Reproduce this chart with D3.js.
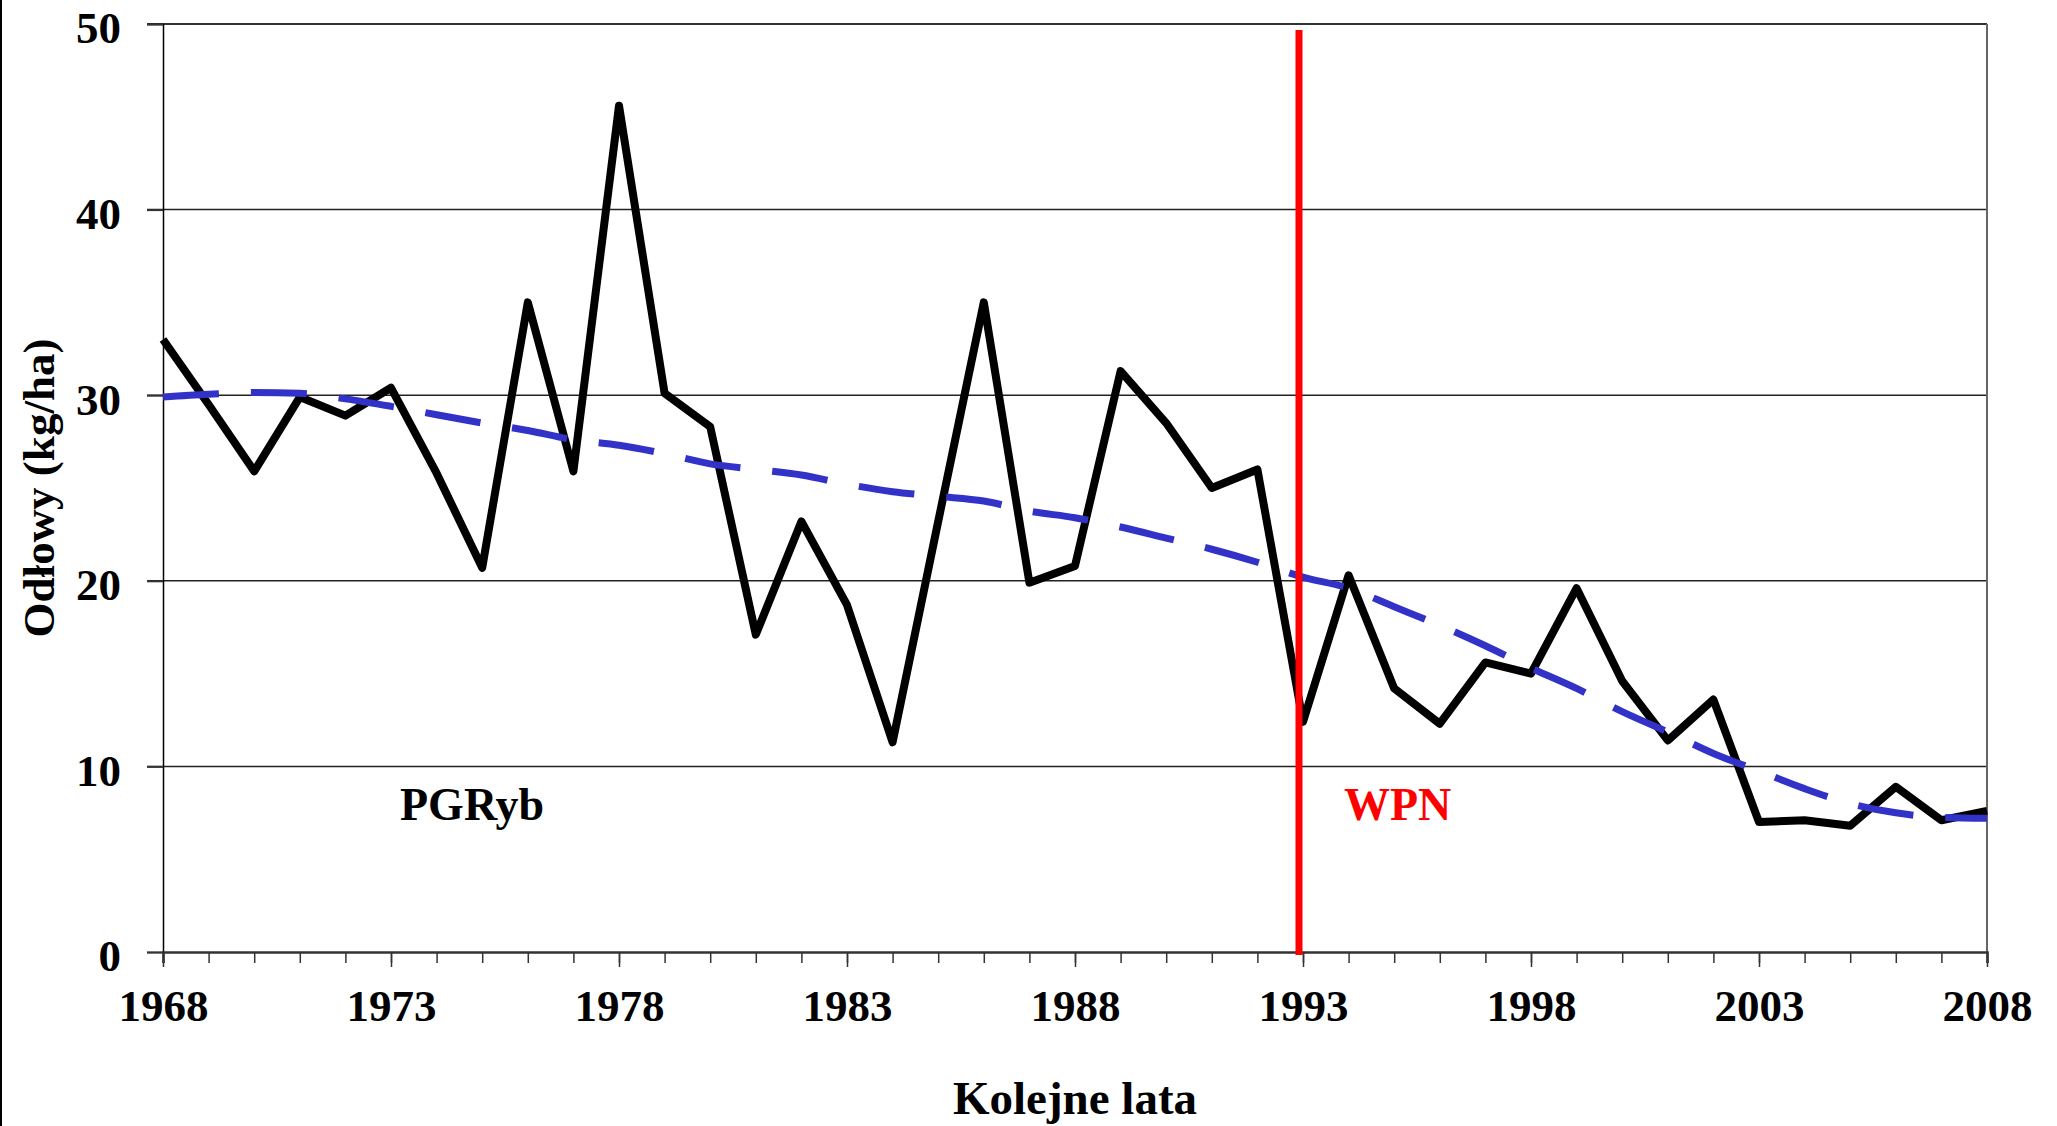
<!DOCTYPE html>
<html>
<head>
<meta charset="utf-8">
<script src="https://cdn.jsdelivr.net/npm/d3@7"></script>
<style>
  html, body { margin: 0; padding: 0; background: #fff; }
  svg { display: block; }
  text { font-family: "Liberation Serif", "Times New Roman", serif; font-weight: bold; }
</style>
</head>
<body>
<div id="chart"></div>
<script>
// catches per year (kg/ha)
const years = d3.range(1968, 2009);
const catches = [
  33.0, 29.5, 25.9, 29.9, 28.9, 30.4, 25.8, 20.7, 35.0, 25.9,
  45.6, 30.1, 28.3, 17.1, 23.2, 18.7, 11.3, 23.2, 35.0, 19.9,
  20.8, 31.3, 28.5, 25.0, 26.0, 12.4, 20.3, 14.2, 12.3, 15.6,
  15.0, 19.6, 14.6, 11.4, 13.6, 7.0, 7.1, 6.8, 8.9, 7.1, 7.6
];
// trend line
const trend = [
  29.9, 30.05, 30.15, 30.1, 29.8, 29.4, 28.95, 28.5, 28.1, 27.6,
  27.3, 26.85, 26.3, 26.0, 25.7, 25.2, 24.8, 24.55, 24.3, 23.75,
  23.4, 22.9, 22.3, 21.7, 21.0, 20.2, 19.6, 18.6, 17.6, 16.5,
  15.3, 14.2, 12.95, 11.85, 10.7, 9.75, 8.8, 8.0, 7.5, 7.25, 7.2
];
const yTicks = [0, 10, 20, 30, 40, 50];
const xLabelYears = [1968, 1973, 1978, 1983, 1988, 1993, 1998, 2003, 2008];
const markerYear = 1993;
const leftLabel = "PGRyb";
const rightLabel = "WPN";

const width = 2057, height = 1126;
const margin = {left: 163, right: 70, top: 24, bottom: 174};

const svg = d3.select("#chart").append("svg")
  .attr("width", width)
  .attr("height", height);

// outer frame edge on the left
svg.append("line")
  .attr("x1", 1).attr("x2", 1).attr("y1", 0).attr("y2", height)
  .attr("stroke", "#000").attr("stroke-width", 2);

const x = d3.scaleLinear()
  .domain([1968, 2008])
  .range([margin.left, width - margin.right]);
const y = d3.scaleLinear()
  .domain([0, 50])
  .range([height - margin.bottom, margin.top]);

// gridlines
svg.append("g")
  .selectAll("line")
  .data(yTicks.filter(d => d > 0))
  .enter().append("line")
  .attr("x1", x(1968) - 16)
  .attr("x2", x(2008))
  .attr("y1", d => y(d))
  .attr("y2", d => y(d))
  .attr("stroke", d => d === 50 ? "#333" : "#222")
  .attr("stroke-width", d => d === 50 ? 2 : 1.5);

// right border
svg.append("line")
  .attr("x1", x(2008)).attr("x2", x(2008))
  .attr("y1", y(50)).attr("y2", y(0))
  .attr("stroke", "#666").attr("stroke-width", 2);

// y axis
const yAxis = svg.append("g")
  .attr("transform", "translate(" + x(1968) + ",0)")
  .call(d3.axisLeft(y).tickValues(yTicks).tickSize(16).tickPadding(26).tickFormat(d3.format("d")));
yAxis.select(".domain").attr("stroke", "#000").attr("stroke-width", 1.5);
yAxis.selectAll(".tick line").attr("stroke", "#333").attr("stroke-width", 2);
yAxis.selectAll("text")
  .attr("fill", "#000")
  .attr("dy", "0.42em")
  .style("font-size", "45px")
  .style("font-family", "'Liberation Serif', serif")
  .style("font-weight", "bold");

// x axis: minor ticks every year, major with labels every 5
const xAxisMinor = svg.append("g")
  .attr("transform", "translate(0," + y(0) + ")")
  .call(d3.axisBottom(x).tickValues(years).tickSize(11).tickFormat(""));
xAxisMinor.select(".domain").attr("stroke", "#333").attr("stroke-width", 2.5);
xAxisMinor.selectAll(".tick line").attr("stroke", "#333").attr("stroke-width", 1.5);

const xAxis = svg.append("g")
  .attr("transform", "translate(0," + y(0) + ")")
  .call(d3.axisBottom(x).tickValues(xLabelYears).tickSize(15).tickPadding(54).tickFormat(d3.format("d")));
xAxis.select(".domain").remove();
xAxis.selectAll(".tick line").attr("stroke", "#333").attr("stroke-width", 1.5);
xAxis.selectAll("text")
  .attr("fill", "#000")
  .attr("dy", "0")
  .style("font-size", "45px")
  .style("font-family", "'Liberation Serif', serif")
  .style("font-weight", "bold");

// data line
const line = d3.line()
  .x((d, i) => x(years[i]))
  .y(d => y(d));

svg.append("path")
  .datum(catches)
  .attr("d", line)
  .attr("fill", "none")
  .attr("stroke", "#000")
  .attr("stroke-width", 8)
  .attr("stroke-linejoin", "round");

// trend line
svg.append("path")
  .datum(trend)
  .attr("d", d3.line().curve(d3.curveMonotoneX).x((d, i) => x(years[i])).y(d => y(d)))
  .attr("fill", "none")
  .attr("stroke", "#3232c8")
  .attr("stroke-width", 7)
  .attr("stroke-dasharray", "56,32");

// red marker line
svg.append("line")
  .attr("x1", x(markerYear) - 4).attr("x2", x(markerYear) - 4)
  .attr("y1", 30).attr("y2", y(0) + 3)
  .attr("stroke", "#ff0000")
  .attr("stroke-width", 7);

// period labels
svg.append("text")
  .attr("x", 400).attr("y", 820)
  .style("font-size", "46px")
  .attr("fill", "#000")
  .text(leftLabel);

svg.append("text")
  .attr("x", 1344).attr("y", 820)
  .style("font-size", "46px")
  .attr("fill", "#ff0000")
  .text(rightLabel);

// axis titles
svg.append("text")
  .attr("x", (x(1968) + x(2008)) / 2)
  .attr("y", 1114)
  .attr("text-anchor", "middle")
  .style("font-size", "47px")
  .attr("fill", "#000")
  .text("Kolejne lata");

svg.append("text")
  .attr("transform", "translate(54," + ((y(0) + y(50)) / 2) + ") rotate(-90)")
  .attr("text-anchor", "middle")
  .style("font-size", "45px")
  .attr("fill", "#000")
  .text("Odłowy (kg/ha)");
</script>
</body>
</html>
